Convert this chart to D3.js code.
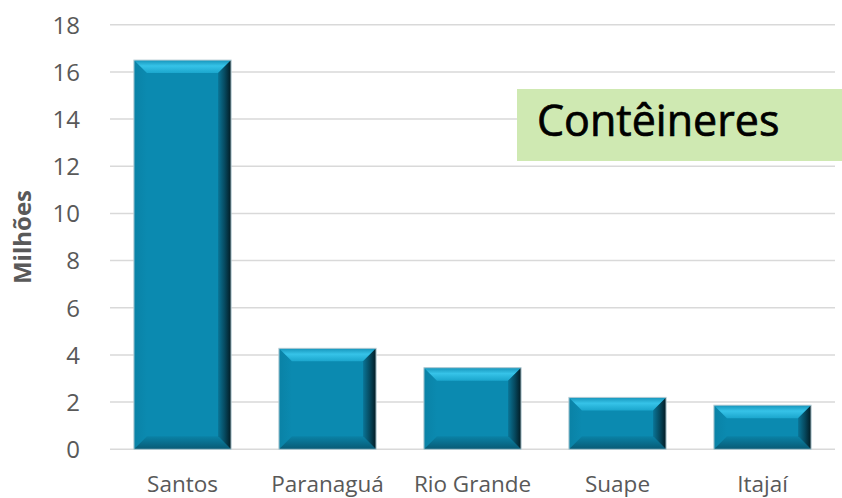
<!DOCTYPE html>
<html><head><meta charset="utf-8">
<script src="https://cdn.jsdelivr.net/npm/d3@7"></script>
<style>html,body{margin:0;padding:0;background:#fff;}svg{display:block;}</style>
</head><body>
<svg id="chart" width="842" height="498"></svg>
<script>
const categories = ["Santos", "Paranaguá", "Rio Grande", "Suape", "Itajaí"];
const values = [16.5, 4.28, 3.46, 2.2, 1.87];
const yTicks = [0, 2, 4, 6, 8, 10, 12, 14, 16, 18];
const yTitle = "Milhões";
const boxLabel = "Contêineres";

const svg = d3.select("#chart");
const x = d3.scaleBand().domain(categories).range([110, 835]).paddingInner(0.33).paddingOuter(0.165);
const y = d3.scaleLinear().domain([0, 18]).range([449.3, 24.7]);

const defs = svg.append("defs");
function grad(id, x1, y1, x2, y2, stops) {
  const g = defs.append("linearGradient").attr("id", id)
    .attr("x1", x1).attr("y1", y1).attr("x2", x2).attr("y2", y2);
  stops.forEach(s => g.append("stop").attr("offset", s[0]).attr("stop-color", s[1]));
}
grad("gTop", 0, 0, 0, 1, [[0, "#1694ba"], [0.45, "#36c3e8"], [1, "#1ba6cd"]]);
grad("gRight", 0, 0, 1, 0, [[0, "#0a7597"], [0.5, "#064a60"], [1, "#021a22"]]);
grad("gBottom", 0, 0, 0, 1, [[0, "#0a82a6"], [1, "#075a75"]]);
grad("gLeft", 0, 0, 1, 0, [[0, "#0a82a6"], [1, "#0b8ab0"]]);

// gridlines
svg.append("g").selectAll("line").data(yTicks).join("line")
  .attr("x1", 110).attr("x2", 835)
  .attr("y1", d => y(d)).attr("y2", d => y(d))
  .attr("stroke", "#d9d9d9").attr("stroke-width", 1.5);

// y axis labels
const yAxis = svg.append("g").attr("transform", "translate(80,0)")
  .call(d3.axisLeft(y).tickValues(yTicks).tickSize(0).tickPadding(0));
yAxis.select(".domain").remove();
yAxis.selectAll("text").attr("font-family", "'Open Sans', sans-serif")
  .attr("font-size", 24).attr("fill", "#595959").attr("dy", "0.35em");

// x axis labels
const xAxis = svg.append("g").attr("transform", "translate(0,449.3)")
  .call(d3.axisBottom(x).tickSize(0).tickPadding(0));
xAxis.select(".domain").remove();
xAxis.selectAll("text").attr("font-family", "'Open Sans', sans-serif")
  .attr("font-size", 22.5).attr("fill", "#595959").attr("dy", null).attr("y", 42.5);

// bars with bevel
const b = 13;
const bars = svg.append("g").selectAll("g").data(categories.map((c, i) => ({c, v: values[i]}))).join("g");
bars.each(function(d) {
  const g = d3.select(this);
  const x0 = x(d.c), x1 = x0 + x.bandwidth(), y0 = y(d.v), y1 = y(0);
  g.append("rect").attr("x", x0).attr("y", y0).attr("width", x1 - x0).attr("height", y1 - y0)
    .attr("fill", "#0b8ab0");
  const poly = (pts, fill) => g.append("polygon").attr("points", pts.map(p => p.join(",")).join(" ")).attr("fill", fill);
  poly([[x0, y1], [x0 + b, y1 - b], [x0 + b, y0 + b], [x0, y0]], "url(#gLeft)");
  poly([[x0, y1], [x1, y1], [x1 - b, y1 - b], [x0 + b, y1 - b]], "url(#gBottom)");
  poly([[x0, y0], [x1, y0], [x1 - b, y0 + b], [x0 + b, y0 + b]], "url(#gTop)");
  poly([[x1, y0], [x1, y1], [x1 - b, y1 - b], [x1 - b, y0 + b]], "url(#gRight)");
  g.append("rect").attr("x", x0).attr("y", y0).attr("width", x1 - x0).attr("height", y1 - y0)
    .attr("fill", "none").attr("stroke", "#b8cdd4").attr("stroke-width", 1);
});

// label box
svg.append("rect").attr("x", 517).attr("y", 89).attr("width", 325).attr("height", 72).attr("fill", "#cfe9b2");
svg.append("text").attr("x", 537).attr("y", 136).text(boxLabel)
  .attr("font-family", "'Open Sans', sans-serif").attr("font-size", 43).attr("fill", "#000")
  .attr("stroke", "#000").attr("stroke-width", 0.7);

// y title
svg.append("text").attr("transform", "translate(31,237) rotate(-90)")
  .attr("text-anchor", "middle").text(yTitle)
  .attr("font-family", "'Open Sans', sans-serif").attr("font-weight", "bold")
  .attr("font-size", 24).attr("fill", "#595959");
</script>
</body></html>
